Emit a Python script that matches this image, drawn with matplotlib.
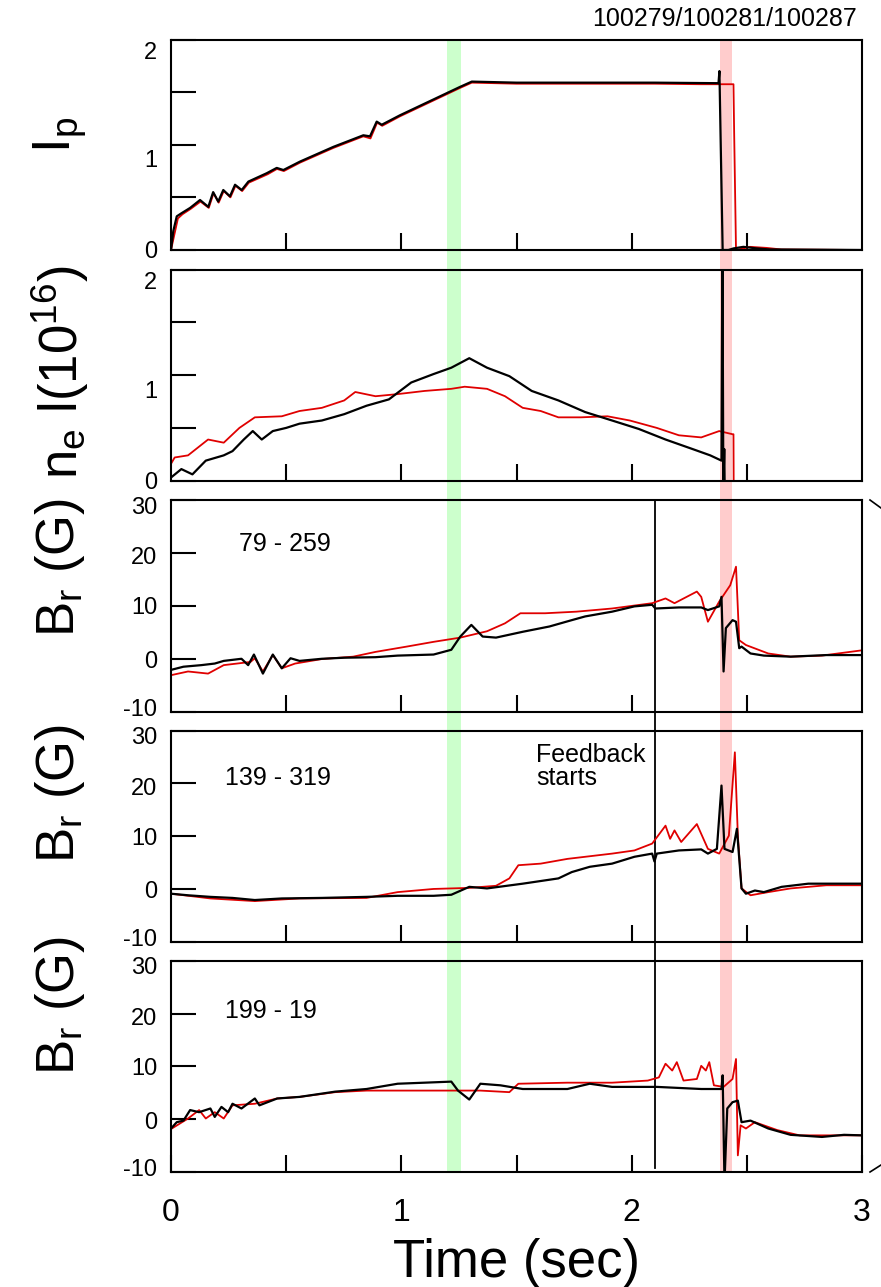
import matplotlib
matplotlib.use("Agg")
import matplotlib.pyplot as plt
import matplotlib.transforms as mtransforms
from matplotlib.lines import Line2D

plt.rcParams['font.family'] = ['Liberation Sans', 'DejaVu Sans']
plt.rcParams['mathtext.fontset'] = 'custom'
plt.rcParams['mathtext.rm'] = 'Liberation Sans'
plt.rcParams['mathtext.it'] = 'Liberation Sans'
plt.rcParams['mathtext.default'] = 'regular'

RED = '#e00000'
BLACK = 'black'

# ---- panel 1: plasma current
ip_t_black = [0.0, 0.01, 0.025, 0.046, 0.083, 0.126, 0.162, 0.183, 0.205, 0.227, 0.256, 0.278, 0.307, 0.336,
              0.416, 0.459, 0.488, 0.56, 0.705, 0.835, 0.864, 0.893, 0.915, 0.994, 1.168, 1.255, 1.306, 1.5,
              1.8, 2.1, 2.377, 2.381, 2.386, 2.395, 2.42, 2.442, 2.485, 2.543, 2.6, 3.0]
ip_black = [0.0, 0.18, 0.32, 0.35, 0.40, 0.475, 0.41, 0.55, 0.46, 0.57, 0.51, 0.62, 0.57, 0.65,
            0.73, 0.78, 0.76, 0.84, 0.98, 1.09, 1.08, 1.22, 1.19, 1.28, 1.46, 1.55, 1.60, 1.59,
            1.59, 1.59, 1.585, 1.70, 1.08, 0.0, 0.0, 0.015, 0.03, 0.015, 0.005, 0.0]
ip_t_red = [0.0, 0.012, 0.03, 0.05, 0.085, 0.128, 0.164, 0.185, 0.207, 0.229, 0.258, 0.28, 0.309, 0.338,
            0.42, 0.46, 0.49, 0.56, 0.705, 0.835, 0.866, 0.895, 0.917, 0.994, 1.168, 1.255, 1.306, 1.5,
            1.8, 2.1, 2.3, 2.442, 2.445, 2.453, 2.514, 2.586, 2.65, 3.0]
ip_red = [0.0, 0.12, 0.30, 0.34, 0.39, 0.46, 0.40, 0.54, 0.45, 0.56, 0.50, 0.61, 0.56, 0.64,
          0.72, 0.77, 0.75, 0.83, 0.97, 1.08, 1.06, 1.21, 1.18, 1.27, 1.45, 1.54, 1.59, 1.58,
          1.58, 1.58, 1.575, 1.575, 1.11, 0.0, 0.03, 0.02, 0.005, 0.0]

# ---- panel 2: line density
ne_t_black = [0.0, 0.045, 0.093, 0.151, 0.229, 0.267, 0.316, 0.355, 0.394, 0.442, 0.500, 0.558, 0.655,
              0.752, 0.849, 0.946, 1.043, 1.140, 1.217, 1.295, 1.372, 1.469, 1.566, 1.682, 1.798, 1.915,
              2.031, 2.147, 2.264, 2.341, 2.390, 2.394, 2.398, 2.402, 2.404]
ne_black = [0.03, 0.11, 0.06, 0.19, 0.24, 0.28, 0.39, 0.47, 0.39, 0.47, 0.50, 0.54, 0.57,
            0.63, 0.71, 0.77, 0.93, 1.01, 1.07, 1.16, 1.07, 0.99, 0.85, 0.76, 0.65, 0.57,
            0.49, 0.39, 0.30, 0.24, 0.19, 2.3, -0.1, 0.3, -0.1]
ne_t_red = [0.0, 0.016, 0.074, 0.161, 0.229, 0.297, 0.364, 0.481, 0.558, 0.655, 0.752, 0.800, 0.888,
            0.984, 1.101, 1.217, 1.275, 1.372, 1.450, 1.527, 1.605, 1.682, 1.779, 1.895, 1.992, 2.109,
            2.205, 2.302, 2.380, 2.438, 2.442, 2.443]
ne_red = [0.16, 0.22, 0.24, 0.39, 0.36, 0.50, 0.60, 0.61, 0.66, 0.69, 0.76, 0.84, 0.80,
          0.82, 0.85, 0.87, 0.89, 0.87, 0.80, 0.69, 0.66, 0.60, 0.60, 0.61, 0.57, 0.50,
          0.43, 0.41, 0.47, 0.44, 0.44, -0.1]

# ---- panel 3: Br 79 - 259
b1_t_black = [0.0, 0.054, 0.132, 0.190, 0.229, 0.306, 0.335, 0.360, 0.399, 0.442, 0.481, 0.519, 0.558,
              0.655, 0.752, 0.888, 0.984, 1.140, 1.217, 1.256, 1.304, 1.353, 1.411, 1.527, 1.643, 1.740,
              1.798, 1.915, 2.012, 2.089, 2.103, 2.205, 2.302, 2.331, 2.380, 2.390, 2.399, 2.409, 2.438,
              2.453, 2.467, 2.477, 2.516, 2.574, 2.690, 2.845, 3.0]
b1_black = [-2.1, -1.5, -1.2, -0.9, -0.4, 0.0, -1.2, 0.8, -2.8, 0.8, -1.8, 0.1, -0.4,
            0.0, 0.2, 0.3, 0.6, 0.8, 1.7, 4.2, 6.4, 4.2, 4.0, 5.1, 6.1, 7.3,
            8.0, 8.9, 9.9, 10.2, 9.5, 9.7, 9.7, 9.2, 9.9, 11.7, -2.4, 5.8, 7.3,
            7.0, 2.0, 2.3, 1.0, 0.6, 0.4, 0.7, 0.7]
b1_t_red = [0.0, 0.074, 0.161, 0.229, 0.345, 0.364, 0.399, 0.442, 0.481, 0.539, 0.655, 0.791, 0.888,
            1.023, 1.140, 1.256, 1.372, 1.450, 1.517, 1.624, 1.760, 1.915, 2.089, 2.147, 2.186, 2.283,
            2.302, 2.331, 2.380, 2.428, 2.453, 2.467, 2.496, 2.593, 2.690, 2.826, 3.0]
b1_red = [-3.1, -2.4, -2.8, -1.2, -0.6, 0.1, -2.4, 0.7, -1.8, -0.9, -0.05, 0.4, 1.3,
          2.3, 3.2, 4.0, 5.2, 6.7, 8.6, 8.6, 8.9, 9.5, 10.5, 11.4, 10.5, 12.7,
          11.7, 7.0, 10.8, 13.9, 17.4, 3.5, 2.6, 1.0, 0.4, 0.6, 1.6]

# ---- panel 4: Br 139 - 319
b2_t_black = [0.0, 0.074, 0.171, 0.267, 0.364, 0.481, 0.655, 0.849, 0.984, 1.140, 1.217, 1.295, 1.372,
              1.527, 1.682, 1.740, 1.818, 1.915, 2.012, 2.089, 2.099, 2.109, 2.205, 2.302, 2.331, 2.370,
              2.390, 2.403, 2.438, 2.457, 2.477, 2.496, 2.535, 2.574, 2.651, 2.767, 3.0]
b2_black = [-0.9, -1.2, -1.5, -1.7, -2.1, -1.8, -1.7, -1.5, -1.3, -1.3, -1.1, 0.4, 0.1,
            1.0, 2.0, 3.2, 4.2, 4.8, 6.1, 6.7, 5.2, 6.7, 7.3, 7.5, 6.7, 7.6,
            19.6, 7.6, 7.0, 11.4, 0.1, -0.9, -0.3, -0.6, 0.4, 1.0, 1.0]
b2_t_red = [0.0, 0.171, 0.364, 0.558, 0.849, 0.984, 1.140, 1.295, 1.411, 1.469, 1.508, 1.605, 1.721,
            1.915, 2.012, 2.089, 2.147, 2.167, 2.186, 2.215, 2.283, 2.331, 2.380, 2.422, 2.448, 2.461,
            2.477, 2.516, 2.593, 2.690, 2.845, 3.0]
b2_red = [-0.9, -1.8, -2.3, -1.8, -1.7, -0.6, 0.0, 0.2, 0.6, 2.0, 4.5, 4.8, 5.7,
          6.7, 7.3, 8.6, 12.0, 9.5, 11.1, 8.9, 12.3, 7.6, 6.7, 10.1, 25.9, 10.1,
          0.1, -1.2, -0.6, 0.1, 0.7, 0.7]

# ---- panel 5: Br 199 - 19
b3_t_black = [0.0, 0.025, 0.054, 0.083, 0.122, 0.171, 0.190, 0.219, 0.248, 0.267, 0.306, 0.364, 0.384,
              0.461, 0.558, 0.713, 0.849, 0.984, 1.101, 1.217, 1.246, 1.295, 1.343, 1.430, 1.527, 1.721,
              1.818, 1.915, 2.109, 2.302, 2.390, 2.395, 2.403, 2.415, 2.438, 2.461, 2.477, 2.516, 2.593,
              2.690, 2.826, 2.922, 3.0]
b3_black = [-1.8, -0.6, -0.3, 1.7, 1.3, 2.0, 0.4, 2.3, 1.3, 2.9, 2.0, 3.9, 2.6,
            3.9, 4.2, 5.2, 5.7, 6.7, 6.9, 7.1, 5.4, 3.7, 6.7, 6.4, 5.7, 5.7,
            6.7, 6.1, 6.1, 5.7, 5.7, 8.3, -12.0, 2.0, 3.2, 3.5, -0.6, -0.3, -1.8,
            -3.0, -3.4, -3.0, -3.1]
b3_t_red = [0.0, 0.074, 0.122, 0.151, 0.190, 0.229, 0.267, 0.364, 0.461, 0.558, 0.713, 0.849, 0.984,
            1.140, 1.343, 1.469, 1.508, 1.721, 1.915, 2.070, 2.118, 2.147, 2.176, 2.196, 2.225, 2.283,
            2.302, 2.322, 2.337, 2.357, 2.399, 2.438, 2.453, 2.461, 2.473, 2.496, 2.535, 2.632, 2.729, 3.0]
b3_red = [-1.9, 0.1, 1.7, 0.1, 1.3, 0.1, 2.6, 2.9, 3.9, 4.2, 5.1, 5.4, 5.4,
          5.4, 5.4, 5.1, 6.7, 6.9, 6.9, 7.3, 7.9, 10.5, 9.2, 10.8, 7.3, 7.6,
          10.1, 9.2, 10.8, 6.4, 6.1, 7.6, 11.4, -6.9, -1.2, -1.8, -0.6, -2.1, -3.1, -3.1]

green_band = (1.200, 1.258)
red_band = (2.384, 2.437)
feedback_t = 2.10

ylabels = ['I$_p$', 'n$_e$ l(10$^{16}$)', 'B$_r$ (G)', 'B$_r$ (G)', 'B$_r$ (G)']
ylabel_y = [135, 372, 568, 794, 1006]
probe_labels = ['79 - 259', '139 - 319', '199 - 19']
probe_label_pos = [(0.294, 21.7), (0.236, 21.0), (0.236, 20.5)]

ip_ticks = [0, 0.5, 1, 1.5, 2]
ip_ticklabels = ['0', '', '1', '', '2']
br_ticks = [-10, 0, 10, 20, 30]
br_ticklabels = ['-10', '0', '10', '20', '30']
# downward nudges (pixels) of the y tick labels, as in the original
ip_label_nudge = [0, 0, 14, 0, 11]
br_label_nudge = [-4, 1, 0, 3, 5]

W, H = 881, 1287
fig = plt.figure(figsize=(W / 100, H / 100), dpi=100)

left = 171 / W
width = (862 - 171) / W
tops = [39.5, 269.5, 500.0, 730.7, 961.0]
bots = [250.0, 480.7, 711.7, 941.7, 1171.7]

# background axes for the shaded time windows and the feedback line
bg = fig.add_axes([left, 1 - bots[-1] / H, width, (bots[-1] - tops[0]) / H])
bg.set_xlim(0, 3)
bg.set_ylim(0, 1)
bg.axis('off')
bg.axvspan(*green_band, color='#ccffcc', lw=0)
bg.axvspan(*red_band, color='#ffcccc', lw=0)
fb_top = (bots[-1] - tops[2]) / (bots[-1] - tops[0])
bg.axvline(feedback_t, ymin=0.003, ymax=fb_top, color='black', lw=1.3)

axes = []
for i in range(5):
    ax = fig.add_axes([left, 1 - bots[i] / H, width, (bots[i] - tops[i]) / H])
    ax.patch.set_alpha(0)
    ax.set_xlim(0, 3)
    for s in ax.spines.values():
        s.set_linewidth(1.5)
    ax.tick_params(axis='x', direction='in', length=12, width=1.5, top=False, labelsize=23, pad=19)
    ax.tick_params(axis='y', direction='in', length=18, width=1.5, right=False, labelsize=17, pad=10)
    if i == 4:
        ax.set_xticks([0, 0.5, 1, 1.5, 2, 2.5, 3])
        ax.set_xticklabels(['0', '', '1', '', '2', '', '3'])
    else:
        ax.set_xticks([0.5, 1, 1.5, 2, 2.5])
        ax.set_xticklabels([])
    if i < 2:
        ax.set_ylim(0, 2)
        ax.set_yticks(ip_ticks)
        ax.set_yticklabels(ip_ticklabels)
        nudge = ip_label_nudge
    else:
        ax.set_ylim(-10, 30)
        ax.set_yticks(br_ticks)
        ax.set_yticklabels(br_ticklabels)
        nudge = br_label_nudge
    for lab, dy in zip(ax.get_yticklabels(), nudge):
        lab.set_transform(lab.get_transform() +
                          mtransforms.ScaledTranslation(0, -dy / 100, fig.dpi_scale_trans))
    fig.text(60 / W, 1 - ylabel_y[i] / H, ylabels[i], rotation=90, ha='center', va='center', fontsize=38)
    axes.append(ax)

series = [
    (ip_t_red, ip_red, ip_t_black, ip_black),
    (ne_t_red, ne_red, ne_t_black, ne_black),
    (b1_t_red, b1_red, b1_t_black, b1_black),
    (b2_t_red, b2_red, b2_t_black, b2_black),
    (b3_t_red, b3_red, b3_t_black, b3_black),
]
for ax, (tr, yr, tb, yb) in zip(axes, series):
    ax.plot(tr, yr, color=RED, lw=1.3)
    ax.plot(tb, yb, color=BLACK, lw=1.6)

for ax, lab, (x, y) in zip(axes[2:], probe_labels, probe_label_pos):
    ax.text(x, y, lab, fontsize=18, ha='left', va='center')

axes[3].text(1.584, 27.6, 'Feedback\nstarts', fontsize=18, ha='left', va='top', linespacing=0.95)

axes[4].set_xlabel('Time (sec)', fontsize=38, labelpad=7)

fig.text(857 / W, 1 - 19 / H, '100279/100281/100287', ha='right', va='center', fontsize=18)

# small slash marks at the right edge
fig.add_artist(Line2D([870 / W, 1.0], [1 - 500 / H, 1 - 508 / H], color='black', lw=1.2))
fig.add_artist(Line2D([870 / W, 1.0], [1 - 1172 / H, 1 - 1165 / H], color='black', lw=1.2))

fig.savefig('out.png', dpi=100)
